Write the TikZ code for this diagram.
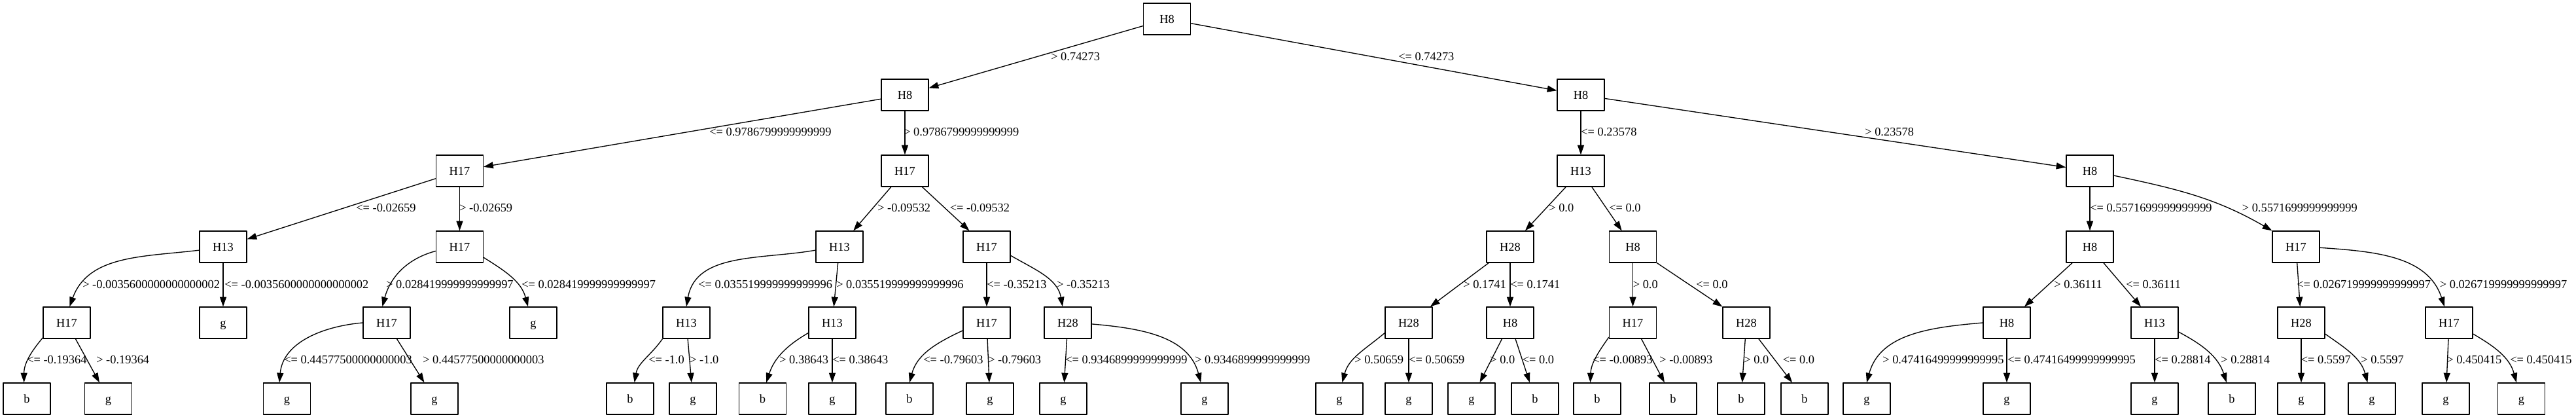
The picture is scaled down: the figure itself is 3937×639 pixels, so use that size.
\documentclass[tikz,border=0pt]{standalone}
\usepackage{fontspec}
\setmainfont{Liberation Serif}
\usetikzlibrary{arrows.meta}
\tikzset{
	box/.style={draw, line width=1pt, minimum width=54pt, minimum height=36pt, inner sep=0pt, text height=10pt, text depth=0pt},
	lbl/.style={anchor=west, inner sep=0pt},
	edge/.style={->, line width=1pt}
}
\begin{document}
\begin{tikzpicture}[x=0.75pt, y=0.75pt, >={Triangle[length=11pt,width=7.5pt]}, font=\fontsize{13.8}{17}\selectfont, line join=round]
	\useasboundingbox (0,0) rectangle (3937,-639);
	% splits
	\path
	(1783.5,-29) node[box] (t) {H8}
	(1383,-145) node[box] (tL) {H8}
	(2416,-145) node[box] (tR) {H8}
	(702.5,-261) node[box] (tLL) {H17}
	(1383,-261) node[box] (tLR) {H17}
	(2416,-261) node[box] (tRL) {H13}
	(3194,-261) node[box] (tRR) {H8}
	(341,-377) node[box] (tLLL) {H13}
	(702.5,-377) node[box] (tLLR) {H17}
	(1283,-377) node[box] (tLRL) {H13}
	(1508,-377) node[box] (tLRR) {H17}
	(2308,-377) node[box] (tRLL) {H28}
	(2495.5,-377) node[box] (tRLR) {H8}
	(3194,-377) node[box] (tRRL) {H8}
	(3509,-377) node[box] (tRRR) {H17}
	(102,-493) node[box] (tLLLL) {H17}
	(341,-493) node[box] (tLLLR) {g}
	(591,-493) node[box] (tLLRL) {H17}
	(815,-493) node[box] (tLLRR) {g}
	(1049,-493) node[box] (tLRLL) {H13}
	(1272,-493) node[box] (tLRLR) {H13}
	(1508,-493) node[box] (tLRRL) {H17}
	(1632,-493) node[box] (tLRRR) {H28}
	(2153,-493) node[box] (tRLLL) {H28}
	(2308,-493) node[box] (tRLLR) {H8}
	(2495.5,-493) node[box] (tRLRL) {H17}
	(2669,-493) node[box] (tRLRR) {H28}
	(3067,-493) node[box] (tRRLL) {H8}
	(3293,-493) node[box] (tRRLR) {H13}
	(3517,-493) node[box] (tRRRL) {H28}
	(3743,-493) node[box] (tRRRR) {H17}
	;
	% leaves
	\path
	(41,-609) node[box] (tLLLLL) {b}
	(165.5,-609) node[box] (tLLLLR) {g}
	(438.5,-609) node[box] (tLLRLL) {g}
	(664,-609) node[box] (tLLRLR) {g}
	(963,-609) node[box] (tLRLLL) {b}
	(1059,-609) node[box] (tLRLLR) {g}
	(1165.5,-609) node[box] (tLRLRL) {b}
	(1272,-609) node[box] (tLRLRR) {g}
	(1390,-609) node[box] (tLRRLL) {b}
	(1513,-609) node[box] (tLRRLR) {g}
	(1625,-609) node[box] (tLRRRL) {g}
	(1841,-609) node[box] (tLRRRR) {g}
	(2047,-609) node[box] (tRLLLL) {g}
	(2153,-609) node[box] (tRLLLR) {g}
	(2249,-609) node[box] (tRLLRL) {g}
	(2346,-609) node[box] (tRLLRR) {b}
	(2441,-609) node[box] (tRLRLL) {b}
	(2557,-609) node[box] (tRLRLR) {b}
	(2661,-609) node[box] (tRLRRL) {b}
	(2758,-609) node[box] (tRLRRR) {b}
	(2853,-609) node[box] (tRRLLL) {g}
	(3067,-609) node[box] (tRRLLR) {g}
	(3293,-609) node[box] (tRRLRL) {g}
	(3411,-609) node[box] (tRRLRR) {b}
	(3517,-609) node[box] (tRRRLL) {g}
	(3625,-609) node[box] (tRRRLR) {g}
	(3738,-609) node[box] (tRRRRL) {g}
	(3853.5,-609) node[box] (tRRRRR) {g}
	;
	% straight edges
	\foreach \a/\b in {t/tL, t/tR, tL/tLL, tL/tLR, tR/tRL, tR/tRR,
		tLL/tLLL, tLL/tLLR, tLR/tLRL, tLR/tLRR, tRL/tRLL, tRL/tRLR, tRR/tRRL,
		tLLL/tLLLR, tLRL/tLRLR, tLRR/tLRRL, tRLL/tRLLL, tRLL/tRLLR, tRLR/tRLRL, tRLR/tRLRR,
		tRRL/tRRLL, tRRL/tRRLR, tRRR/tRRRL,
		tLLLL/tLLLLR, tLLRL/tLLRLR, tLRLL/tLRLLR, tLRLR/tLRLRR, tLRRL/tLRRLR, tLRRR/tLRRRL,
		tRLLL/tRLLLR, tRLLR/tRLLRL, tRLLR/tRLLRR, tRLRL/tRLRLR, tRLRR/tRLRRL, tRLRR/tRLRRR,
		tRRLL/tRRLLR, tRRLR/tRRLRL, tRRRL/tRRRLL, tRRRR/tRRRRL}{
		\draw[edge] (\a) -- (\b);
	}
	% curved edges
	\foreach \a/\b/\o/\i in {tRR.-11/tRRR.146/-12/150,
		tLLL.188/tLLLL.80/187/70, tLLR.190/tLLRL.105/195/75, tLLR.-24/tLLRR.108/-32/105,
		tLRL.188/tLRLL.north/190/80, tLRR.-20/tLRRR.108/-30/100, tRRR.-2/tRRRR.106/-4/108,
		tLLLL.212/tLLLLL.100/230/90, tLLRL.west/tLLRLL.115/185/85, tLRLL.214/tLRLLL.75/235/80,
		tLRLR.203/tLRLRL.77/210/72, tLRRL.198/tLRRLL.north/205/75, tLRRR.-3/tLRRRR.103/-5/105,
		tRLLL.203/tRLLLL.80/220/75, tRLRL.211/tRLRLL.113/235/88, tRRLL.west/tRRLLL.north/185/75,
		tRRLR.-21/tRRLRR.108/-28/108, tRRRL.-25/tRRRLR.105/-35/105, tRRRR.-25/tRRRRR.107/-30/105}{
		\draw[edge] (\a) to[out=\o,in=\i] (\b);
	}
	% thresholds
	\foreach \x/\y/\t [count=\n] in {1606/87/{> 0.74273}, 2137/87/{<= 0.74273},
		1084/202/{<= 0.9786799999999999}, 1381/202/{> 0.9786799999999999}, 2416/202/{<= 0.23578}, 2850/202/{> 0.23578},
		544/318/{<= -0.02659}, 702/318/{> -0.02659}, 1341/318/{> -0.09532}, 1451.5/318/{<= -0.09532},
		2367/318/{> 0.0}, 2459/318/{<= 0.0}, 3194/318/{<= 0.5571699999999999}, 3426.5/318/{> 0.5571699999999999},
		126/435/{> -0.0035600000000000002}, 343/435/{<= -0.0035600000000000002},
		590/435/{> 0.028419999999999997}, 797/435/{<= 0.028419999999999997},
		1067/435/{<= 0.035519999999999996}, 1278/435/{> 0.035519999999999996},
		1508/435/{<= -0.35213}, 1615/435/{> -0.35213}, 2236/435/{> 0.1741}, 2308/435/{<= 0.1741},
		2495.5/435/{> 0.0}, 2592/435/{<= 0.0}, 3139/435/{> 0.36111}, 3249/435/{<= 0.36111},
		3510/435/{<= 0.026719999999999997}, 3728.6/435/{> 0.026719999999999997},
		41/550/{<= -0.19364}, 147/550/{> -0.19364}, 434/550/{<= 0.44577500000000003}, 646/550/{> 0.44577500000000003},
		991/550/{<= -1.0}, 1054/550/{> -1.0}, 1191/550/{> 0.38643}, 1272/550/{<= 0.38643},
		1411/550/{<= -0.79603}, 1510/550/{> -0.79603}, 1628/550/{<= 0.9346899999999999}, 1826/550/{> 0.9346899999999999},
		2070/550/{> 0.50659}, 2153/550/{<= 0.50659}, 2277/550/{> 0.0}, 2326.5/550/{<= 0.0},
		2434/550/{<= -0.00893}, 2536/550/{> -0.00893}, 2665/550/{> 0.0}, 2724.5/550/{<= 0.0},
		2877/550/{> 0.47416499999999995}, 3068/550/{<= 0.47416499999999995},
		3293/550/{<= 0.28814}, 3394/550/{> 0.28814}, 3516.5/550/{<= 0.5597}, 3608/550/{> 0.5597},
		3739/550/{> 0.450415}, 3836/550/{<= 0.450415}}{
		\node[lbl] (lab\n) at (\x,-\y) {\t};
	}
\end{tikzpicture}
\end{document}
